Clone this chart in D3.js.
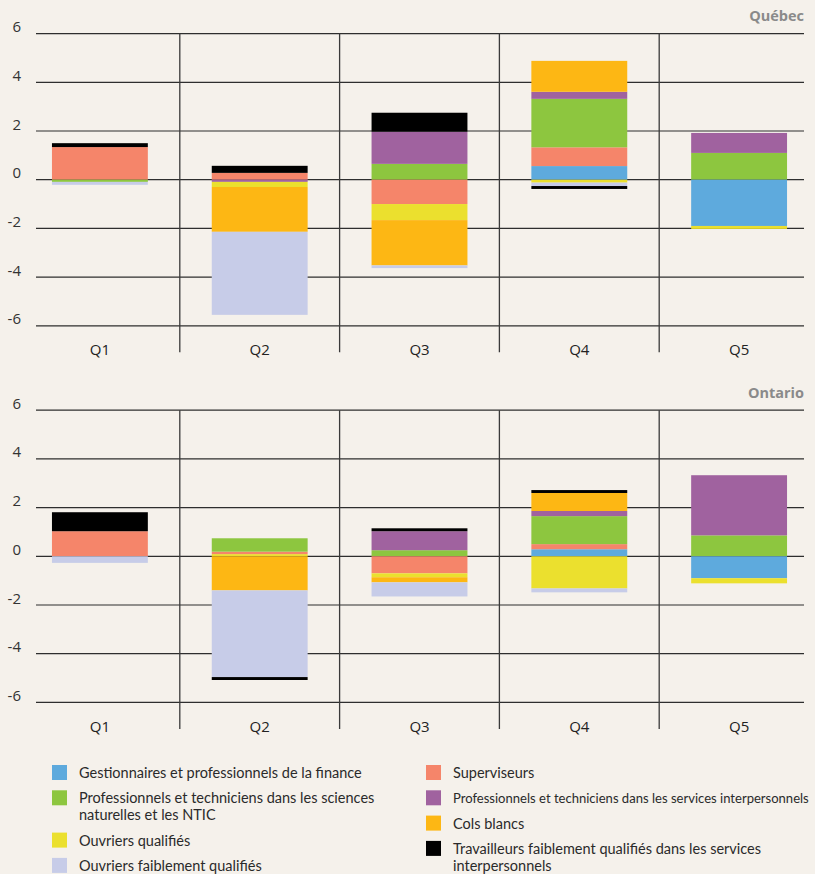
<!DOCTYPE html>
<html>
<head>
<meta charset="utf-8">
<script src="https://cdn.jsdelivr.net/npm/d3@7"></script>
<style>
  html, body { margin: 0; padding: 0; background: #f5f1eb; }
  svg { display: block; }
  text { font-family: "Open Sans", "Noto Sans", sans-serif; }
  .legend text { font-family: Lato, "Open Sans", sans-serif; }
</style>
</head>
<body>
<svg id="chart" width="815" height="874"></svg>
<script>
// Quintiles on the x axis
const quintiles = ["Q1", "Q2", "Q3", "Q4", "Q5"];

// Occupational groups (series), with their fill colours
const seriesKeys = ["gest", "superv", "sciences", "services", "qualif", "cols", "faible", "travail"];
const seriesLabels = {
  gest: ["Gestionnaires et professionnels de la finance"],
  superv: ["Superviseurs"],
  sciences: ["Professionnels et techniciens dans les sciences", "naturelles et les NTIC"],
  services: ["Professionnels et techniciens dans les services interpersonnels"],
  qualif: ["Ouvriers qualifiés"],
  cols: ["Cols blancs"],
  faible: ["Ouvriers faiblement qualifiés"],
  travail: ["Travailleurs faiblement qualifiés dans les services", "interpersonnels"]
};
const seriesColors = {
  gest: "#5eaadd",
  superv: "#f5856a",
  sciences: "#8dc63f",
  services: "#a0629f",
  qualif: "#ebe02e",
  cols: "#fdb714",
  faible: "#c7cce8",
  travail: "#000000"
};

// Stacking order away from zero, for gains and for losses
const positiveOrder = ["qualif", "gest", "superv", "sciences", "services", "cols", "faible", "travail"];
const negativeOrder = ["gest", "superv", "sciences", "services", "qualif", "cols", "faible", "travail"];

// Change in employment (percentage points), Québec, by quintile Q1..Q5
const quebecGest     = [0.00, 0.00, 0.00, 0.56, -1.90];
const quebecSuperv   = [1.34, 0.28, -1.00, 0.77, 0.00];
const quebecSciences = [-0.09, 0.00, 0.65, 1.99, 1.10];
const quebecServices = [0.00, -0.09, 1.32, 0.29, 0.82];
const quebecQualif   = [0.00, -0.21, -0.66, -0.12, -0.12];
const quebecCols     = [0.00, -1.84, -1.86, 1.27, 0.00];
const quebecFaible   = [-0.12, -3.41, -0.11, -0.14, 0.00];
const quebecTravail  = [0.16, 0.29, 0.78, -0.12, 0.00];

// Change in employment (percentage points), Ontario, by quintile Q1..Q5
const ontarioGest     = [0.00, 0.00, 0.00, 0.29, -0.90];
const ontarioSuperv   = [1.03, 0.10, -0.70, 0.21, 0.00];
const ontarioSciences = [0.00, 0.55, 0.25, 1.15, 0.86];
const ontarioServices = [0.00, 0.00, 0.78, 0.21, 2.47];
const ontarioQualif   = [0.00, 0.09, -0.16, -1.32, -0.21];
const ontarioCols     = [0.00, -1.40, -0.21, 0.74, 0.00];
const ontarioFaible   = [-0.27, -3.56, -0.58, -0.16, 0.00];
const ontarioTravail  = [0.78, -0.12, 0.12, 0.12, 0.00];

// Y axis ticks
const yTicks = [6, 4, 2, 0, -2, -4, -6];

const panels = [
  {
    title: "Québec",
    values: {
      gest: quebecGest, superv: quebecSuperv, sciences: quebecSciences, services: quebecServices,
      qualif: quebecQualif, cols: quebecCols, faible: quebecFaible, travail: quebecTravail
    },
    top: 33.6, bottom: 325.8
  },
  {
    title: "Ontario",
    values: {
      gest: ontarioGest, superv: ontarioSuperv, sciences: ontarioSciences, services: ontarioServices,
      qualif: ontarioQualif, cols: ontarioCols, faible: ontarioFaible, travail: ontarioTravail
    },
    top: 410.2, bottom: 702.4
  }
];

const svg = d3.select("#chart");
svg.append("rect").attr("width", 815).attr("height", 874).attr("fill", "#f5f1eb");

const plotLeft = 36, plotRight = 804;
const x = d3.scaleBand()
  .domain(quintiles)
  .range([20, 819])
  .paddingInner(0.4)
  .paddingOuter(0.2);

// Build stacked segments: gains stack upward, losses downward, each in its own order
function stackSegments(values) {
  const segs = [];
  quintiles.forEach((q, i) => {
    let pos = 0;
    positiveOrder.forEach(k => {
      const v = values[k][i];
      if (v > 0) { segs.push({ q, key: k, y0: pos, y1: pos + v }); pos += v; }
    });
    let neg = 0;
    negativeOrder.forEach(k => {
      const v = values[k][i];
      if (v < 0) { segs.push({ q, key: k, y0: neg + v, y1: neg }); neg += v; }
    });
  });
  return segs;
}

panels.forEach(p => {
  const y = d3.scaleLinear().domain([-6, 6]).range([p.bottom, p.top]);
  const g = svg.append("g");

  // Horizontal gridlines
  g.append("g")
    .selectAll("line")
    .data(yTicks)
    .join("line")
    .attr("x1", plotLeft).attr("x2", plotRight)
    .attr("y1", d => y(d)).attr("y2", d => y(d))
    .attr("stroke", "#2e2e2e")
    .attr("stroke-width", 1.2);

  // Tick labels sit just above their gridline
  g.append("g")
    .selectAll("text")
    .data(yTicks)
    .join("text")
    .attr("x", 21)
    .attr("y", d => y(d) - 1.5)
    .attr("text-anchor", "end")
    .attr("font-size", 15)
    .attr("fill", "#333")
    .text(d => d);

  // Vertical separators between quintiles
  const step = x.step();
  const seps = quintiles.slice(1).map(q => x(q) - step * x.paddingInner() / 2);
  g.append("g")
    .selectAll("line")
    .data(seps)
    .join("line")
    .attr("x1", d => d).attr("x2", d => d)
    .attr("y1", p.top).attr("y2", p.bottom + 26.5)
    .attr("stroke", "#3a3a3a")
    .attr("stroke-width", 1.3);

  // Stacked bars
  g.append("g")
    .selectAll("rect")
    .data(stackSegments(p.values))
    .join("rect")
    .attr("x", d => x(d.q))
    .attr("width", x.bandwidth())
    .attr("y", d => y(d.y1))
    .attr("height", d => y(d.y0) - y(d.y1))
    .attr("fill", d => seriesColors[d.key]);

  // Quintile labels
  g.append("g")
    .selectAll("text")
    .data(quintiles)
    .join("text")
    .attr("x", d => x(d) + x.bandwidth() / 2)
    .attr("y", p.bottom + 29.5)
    .attr("text-anchor", "middle")
    .attr("font-size", 15)
    .attr("fill", "#222")
    .text(d => d);

  // Panel title
  g.append("text")
    .attr("x", plotRight)
    .attr("y", p.top - 12.5)
    .attr("text-anchor", "end")
    .attr("font-size", 14.5)
    .attr("font-weight", "bold")
    .attr("fill", "#8a8a8a")
    .text(p.title);
});

// Legend in two columns; a line too wide for the room to the right edge gets a smaller size
const legendColumns = [
  { x: 52, keys: ["gest", "sciences", "qualif", "faible"] },
  { x: 426, keys: ["superv", "services", "cols", "travail"] }
];
const legendRight = 809;
const legendSize = 14.5;
const legend = svg.append("g").attr("class", "legend").attr("fill", "#2a2a2a");
legendColumns.forEach(col => {
  let cy = 773;
  col.keys.forEach(k => {
    const lines = seriesLabels[k];
    legend.append("rect")
      .attr("x", col.x).attr("y", cy - 8)
      .attr("width", 15).attr("height", 15)
      .attr("fill", seriesColors[k]);
    lines.forEach((line, li) => {
      const t = legend.append("text")
        .attr("x", col.x + 27)
        .attr("y", cy + 5 + li * 17)
        .attr("font-size", legendSize)
        .text(line);
      const room = legendRight - (col.x + 27);
      const w = t.node().getComputedTextLength();
      if (w > room) t.attr("font-size", legendSize * room / w);
    });
    cy += 25.3 + 17 * (lines.length - 1);
  });
});
</script>
</body>
</html>
